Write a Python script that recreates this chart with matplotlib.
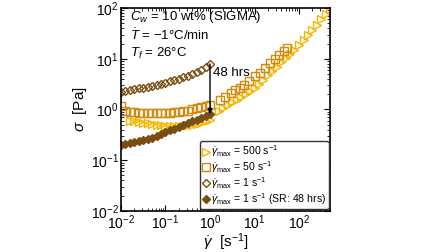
import matplotlib
matplotlib.use("Agg")
import matplotlib.pyplot as plt

plt.rcParams["font.family"] = ["Liberation Sans", "DejaVu Sans"]
plt.rcParams["mathtext.fontset"] = "custom"
plt.rcParams["mathtext.rm"] = "Liberation Sans"
plt.rcParams["mathtext.it"] = "Liberation Sans:italic"
plt.rcParams["mathtext.bf"] = "Liberation Sans:bold"

# --- data ---
x_low = [0.01, 0.0126, 0.0158, 0.02, 0.0251, 0.0316, 0.0398, 0.0501, 0.0631,
         0.0794, 0.1, 0.126, 0.158, 0.2, 0.251, 0.316, 0.398, 0.501, 0.631,
         0.794, 1.0]

# gamma_max = 500 1/s (triangles)
tri_x_low = x_low[2:]
tri_y_low = [0.6, 0.59, 0.57, 0.55, 0.53, 0.51, 0.5, 0.49, 0.48, 0.47, 0.47,
             0.47, 0.48, 0.49, 0.5, 0.52, 0.55, 0.58, 0.62]
tri_x_high = [1.6, 2.0, 2.5, 3.2, 4.0, 5.0, 6.3, 7.9, 10, 12.6, 15.8, 20, 25,
              32, 40, 50, 63, 79, 100, 126, 158, 200, 251, 316, 398, 501]
tri_y_high = [0.95, 1.08, 1.2, 1.38, 1.55, 1.75, 2.0, 2.3, 2.7, 3.2, 3.9, 4.7,
              5.7, 7.0, 8.5, 10.3, 12.5, 15.2, 18.5, 23, 29, 37, 47, 60, 77, 98]

# gamma_max = 50 1/s (squares)
sq_x_low = x_low
sq_y_low = [1.15, 0.95, 0.9, 0.88, 0.87, 0.86, 0.86, 0.85, 0.85, 0.85, 0.86,
            0.87, 0.88, 0.9, 0.92, 0.95, 1.0, 1.05, 1.1, 1.18, 1.25]
sq_x_high = [1.7, 2.2, 2.9, 3.6, 4.6, 5.8, 7.6, 10, 13, 17, 22, 29, 36, 47, 55]
sq_y_high = [1.55, 1.8, 2.1, 2.4, 2.7, 3.1, 3.7, 4.5, 5.3, 6.6, 8.2, 10, 12,
             14, 16]

# gamma_max = 1 1/s (open diamonds)
dia_y = [2.2, 2.3, 2.4, 2.5, 2.6, 2.7, 2.8, 2.95, 3.1, 3.25, 3.4, 3.6, 3.8,
         4.0, 4.3, 4.6, 5.0, 5.5, 6.1, 6.9, 7.9]

# gamma_max = 1 1/s after 48 hrs rest (filled diamonds)
sr_y = [0.20, 0.21, 0.22, 0.23, 0.24, 0.25, 0.26, 0.28, 0.30, 0.33, 0.36,
        0.39, 0.42, 0.45, 0.49, 0.53, 0.58, 0.63, 0.68, 0.74, 0.82]

C_TRI = "#F7B500"
C_SQ = "#D08A10"
C_DIA = "#7A4E12"

fig = plt.figure(figsize=(4.48, 2.52), dpi=100)
ax = fig.add_axes([0.27, 0.163, 0.467, 0.805])

kw = dict(linestyle="none", markerfacecolor="none", markeredgewidth=1.0)
ax.plot(tri_x_low + tri_x_high, tri_y_low + tri_y_high, marker=">",
        markersize=5.5, color=C_TRI, label=r"$\dot{\gamma}_{\rm max}$ = 500 s$^{-1}$", **kw)
ax.plot(sq_x_low + sq_x_high, sq_y_low + sq_y_high, marker="s",
        markersize=5.8, color=C_SQ, label=r"$\dot{\gamma}_{\rm max}$ = 50 s$^{-1}$", **kw)
ax.plot(x_low, dia_y, marker="D", markersize=4.5, color=C_DIA,
        label=r"$\dot{\gamma}_{\rm max}$ = 1 s$^{-1}$", **kw)
ax.plot(x_low, sr_y, linestyle="none", marker="D", markersize=4.5, color=C_DIA,
        label=r"$\dot{\gamma}_{\rm max}$ = 1 s$^{-1}$ (SR: 48 hrs)")

ax.annotate("", xy=(1.0, sr_y[-1]), xytext=(1.0, dia_y[-1]),
            arrowprops=dict(arrowstyle="-|>", color="black", lw=1.0,
                            mutation_scale=7, shrinkA=0, shrinkB=0))
ax.text(1.15, 5.3, "48 hrs", fontsize=9.5, va="center", ha="left")

ax.text(0.045, 0.955, r"$C_w$ = 10 wt% (SIGMA)", transform=ax.transAxes,
        fontsize=9.5, va="center")
ax.text(0.045, 0.865, r"$\dot{T}$ = −1°C/min", transform=ax.transAxes,
        fontsize=9.5, va="center")
ax.text(0.045, 0.775, r"$T_f$ = 26°C", transform=ax.transAxes,
        fontsize=9.5, va="center")

ax.set_xscale("log")
ax.set_yscale("log")
ax.set_xlim(0.01, 500)
ax.set_ylim(0.01, 100)
ax.set_xlabel(r"$\dot{\gamma}$  [s$^{-1}$]", fontsize=11, labelpad=0)
ax.set_ylabel(r"$\sigma$  [Pa]", fontsize=11, labelpad=1)
ax.tick_params(which="both", direction="in", top=True, right=True,
               labelsize=10, pad=1.5)
ax.tick_params(which="major", length=4, width=0.8)
ax.tick_params(which="minor", length=2, width=0.6)
for s in ax.spines.values():
    s.set_linewidth(1.2)

leg = ax.legend(loc="lower right", fontsize=7.6, handlelength=0.6,
                handletextpad=0.2, borderpad=0.25, labelspacing=0.0,
                borderaxespad=0.15, fancybox=True, framealpha=1)
leg.get_frame().set_edgecolor("#333333")

fig.savefig("out.png", dpi=100)
